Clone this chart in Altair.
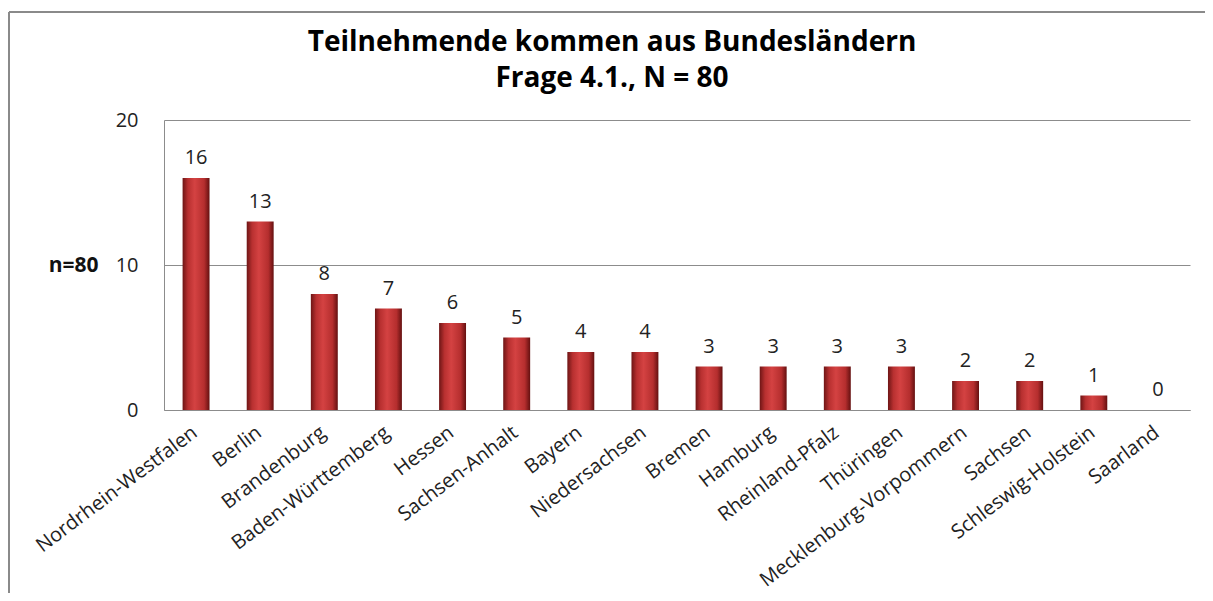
import altair as alt
import pandas as pd

laender = ["Nordrhein-Westfalen", "Berlin", "Brandenburg", "Baden-Württemberg", "Hessen",
           "Sachsen-Anhalt", "Bayern", "Niedersachsen", "Bremen", "Hamburg",
           "Rheinland-Pfalz", "Thüringen", "Mecklenburg-Vorpommern", "Sachsen",
           "Schleswig-Holstein", "Saarland"]
anzahl = [16, 13, 8, 7, 6, 5, 4, 4, 3, 3, 3, 3, 2, 2, 1, 0]
y_ticks = [0, 10, 20]
title_lines = ["Teilnehmende kommen aus Bundesländern", "Frage 4.1., N = 80"]

df = pd.DataFrame({"land": laender, "n": anzahl})

FONT = "Open Sans"
GRID = "#8c8c8c"

x_enc = alt.X("land:N", sort=laender,
              scale=alt.Scale(paddingInner=0.58, paddingOuter=0.29),
              axis=alt.Axis(title=None, labelAngle=-37, labelAlign="right",
                            labelBaseline="middle", labelFontSize=20, labelFont=FONT,
                            labelColor="#222222", ticks=False, domainColor=GRID,
                            labelPadding=20, labelOffset=-1, labelLimit=400))
y_enc = alt.Y("n:Q", scale=alt.Scale(domain=[0, 20], nice=False),
              axis=alt.Axis(values=y_ticks, grid=True, gridColor=GRID, domainColor=GRID,
                            ticks=False, labelPadding=26, labelFontSize=20, labelFont=FONT,
                            labelColor="#222222", title="n=80", titleAngle=0,
                            titleAlign="right", titleBaseline="middle", titleX=-66,
                            titleY=145, titleFont=FONT, titleFontSize=21,
                            titleFontWeight="bold", titleColor="#111111"))

grad = alt.Gradient(
    gradient="linear",
    stops=[alt.GradientStop(color="#6e1515", offset=0),
           alt.GradientStop(color="#b83030", offset=0.2),
           alt.GradientStop(color="#d44242", offset=0.45),
           alt.GradientStop(color="#b52e2e", offset=0.8),
           alt.GradientStop(color="#641010", offset=1)],
    x1=0, x2=1, y1=0, y2=0)

bars = alt.Chart(df).mark_bar(color=grad).encode(x=x_enc, y=y_enc)

labels = alt.Chart(df).mark_text(dy=-14, baseline="alphabetic", fontSize=20, font=FONT,
                                 color="#222222").encode(
    x=alt.X("land:N", sort=laender), y="n:Q", text="n:Q")

title_df = pd.DataFrame({"t": title_lines, "i": [0, 1]})
title1 = alt.Chart(title_df).transform_filter("datum.i == 0").mark_text(
    font=FONT, fontSize=28, fontWeight="bold", color="#000000", align="center",
    baseline="alphabetic").encode(x=alt.value(448), y=alt.value(-69), text="t:N")
title2 = alt.Chart(title_df).transform_filter("datum.i == 1").mark_text(
    font=FONT, fontSize=28, fontWeight="bold", color="#000000", align="center",
    baseline="alphabetic").encode(x=alt.value(448), y=alt.value(-33), text="t:N")

frame_top = alt.Chart(df).mark_rule(color="#8a8a8a", strokeWidth=2).encode(
    x=alt.value(-155), x2=alt.value(1060), y=alt.value(-108))
frame_left = alt.Chart(df).mark_rule(color="#8a8a8a", strokeWidth=2).encode(
    x=alt.value(-155), y=alt.value(-108), y2=alt.value(490))

chart = alt.layer(bars, labels, title1, title2, frame_top, frame_left).properties(
    width=1026, height=290,
    autosize=alt.AutoSizeParams(type="none"),
    padding={"left": 156, "top": 112, "right": 15, "bottom": 183},
).configure_view(stroke=None)

chart.save("out.html", embed_options={"renderer": "svg", "actions": False})
